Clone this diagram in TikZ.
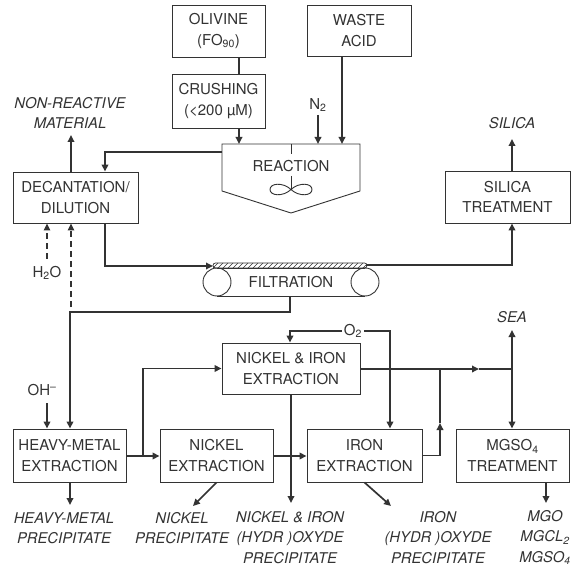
\documentclass[tikz,border=0pt]{standalone}
\usepackage{fontspec}
\setmainfont{TeX Gyre Heros}
\usetikzlibrary{arrows.meta}
\definecolor{ink}{gray}{0.2}
\begin{document}
\begin{tikzpicture}[x=1pt,y=-1pt,
 box/.style={draw=ink,line width=0.9pt,inner sep=0pt,align=center,font=\fontsize{15}{20.5}\selectfont,text=ink},
 lab/.style={inner sep=0pt,align=center,font=\fontsize{14.8}{20.5}\selectfont\itshape,text=ink},
 txt/.style={inner sep=0pt,align=center,font=\fontsize{15}{20.5}\selectfont,text=ink},
 conn/.style={draw=ink,line width=1.7pt},
 arr/.style={conn,-{Triangle[length=7pt,width=6.5pt]}},
 dsh/.style={draw=ink,line width=1.3pt,dash pattern=on 6pt off 4pt,-{Triangle[length=7pt,width=6.5pt]}},
 thin/.style={draw=ink,line width=0.9pt},
]
\useasboundingbox[fill=white] (0,0) rectangle (579,567);

% boxes
\node[box,minimum width=93,minimum height=52] (oliv) at (218.5,31) {OLIVINE\\(FO\textsubscript{90})};
\node[box,minimum width=93,minimum height=54] (crush) at (218.5,101) {CRUSHING\\(<200 µM)};
\node[box,minimum width=104,minimum height=51] (waste) at (359,30.5) {WASTE\\ACID};
\node[box,minimum width=125,minimum height=51] (decant) at (75.5,197.5) {DECANTATION/\\DILUTION};
\node[box,minimum width=125,minimum height=52] (silt) at (507.5,197) {SILICA\\TREATMENT};
\node[box,minimum width=138,minimum height=51] (nife) at (291,368.5) {NICKEL \& IRON\\EXTRACTION};
\node[box,minimum width=113,minimum height=53] (heavy) at (69.5,455.5) {HEAVY-METAL\\EXTRACTION};
\node[box,minimum width=113,minimum height=53] (nick) at (216.5,455.5) {NICKEL\\EXTRACTION};
\node[box,minimum width=115,minimum height=53] (iron) at (364.5,455.5) {IRON\\EXTRACTION};
\node[box,minimum width=113,minimum height=53] (mgso) at (512.5,455.5) {MGSO\textsubscript{4}\\TREATMENT};

% reaction vessel
\coordinate (rtl) at (222,144);
\coordinate (rtr) at (360,144);
\coordinate (rbr) at (360,191);
\coordinate (rbot) at (291,213);
\coordinate (rbl) at (222,191);
\draw[thin] (rtl) -- (rtr) -- (rbr) -- (rbot) -- (rbl) -- cycle;
\node[txt] (react) at (291,166) {REACTION};
\draw[thin] (291,144) -- (291,154);
\draw[thin] (291,176) -- (291,189.5);
\draw[thin] (291,189.5) .. controls (283,182) and (270,183) .. (270,189.5)
  .. controls (270,196) and (283,197) .. (291,189.5)
  .. controls (299,182) and (312,183) .. (312,189.5)
  .. controls (312,196) and (299,197) .. (291,189.5);

% filtration belt
\draw[thin] (217,268) -- (365,268);
\draw[thin] (217,296) -- (365,296);
\draw[thin] (217,282) circle[radius=14];
\draw[thin] (365,282) circle[radius=14];
\draw[draw=ink,line width=0.7pt,rounded corners=2.5pt] (213,263) rectangle (367,268);
\begin{scope}
\clip (213,263) rectangle (366,268);
\foreach \i in {208,213,...,370} \draw[ink,line width=0.5pt] (\i,268) -- (\i+5,263);
\end{scope}
\node[txt] (filt) at (291,282) {FILTRATION};

% labels
\node[lab] (nonr) at (70,113) {NON-REACTIVE\\MATERIAL};
\node[lab] (silica) at (512,123) {SILICA};
\node[txt] (n2) at (318,105) {N\textsubscript{2}};
\node[txt] (h2o) at (47,273) {H\textsubscript{2}O};
\node[txt] (oh) at (42,390) {OH\textsuperscript{–}};
\node[txt,inner sep=2pt] (o2) at (353,331) {O\textsubscript{2}};
\node[lab] (sea) at (512,317) {SEA};
\node[lab] (hmp) at (64,528) {HEAVY-METAL\\PRECIPITATE};
\node[lab] (np) at (182,528) {NICKEL\\PRECIPITATE};
\node[lab] (nifp) at (290,537.5) {NICKEL \& IRON\\(HYDR )OXYDE\\PRECIPITATE};
\node[lab] (irp) at (438,537.5) {IRON\\(HYDR )OXYDE\\PRECIPITATE};
\node[lab] (mgp) at (545,537.5) {MGO\\MGCL\textsubscript{2}\\MGSO\textsubscript{4}};

% helper coordinates
\coordinate (xc) at (239,0);
\coordinate (xw) at (342,0);
\coordinate (xd) at (105,0);
\coordinate (xm) at (71,0);
\coordinate (xs) at (512,0);
\coordinate (rl) at (222,152);
\coordinate (nrtip) at (71,135);
\coordinate (sitip) at (512,139);
\coordinate (beltin) at (213,266);
\coordinate (beltout) at (366,265);
\coordinate (fb) at (290,296);
\coordinate (corner) at (70,312);
\coordinate (dstart) at (71,307);
\coordinate (hstart) at (47,259);
\coordinate (ohs) at (47,403);
\coordinate (yh) at (0,456);
\coordinate (j1) at (143,456);
\coordinate (hmtip) at (70,505);
\coordinate (nptip) at (193,506);
\coordinate (nifetip) at (291,503);
\coordinate (xo1) at (290,0);
\coordinate (xo2) at (390,0);
\coordinate (amid) at (479,369);
\coordinate (j2) at (512,369);
\coordinate (seatip) at (512,330);
\coordinate (ja) at (440,423);
\coordinate (jm) at (440,369);
\coordinate (irtip) at (391,506);
\coordinate (xmg) at (546,0);
\coordinate (mgtip) at (546,503);

% connectors
\draw[conn] (oliv.south -| xc) -- (crush.north -| xc);
\draw[arr] (crush.south -| xc) -- (rtl -| xc);
\draw[arr] ([yshift=-3pt]n2.south) -- (n2 |- rtl);
\draw[arr] (waste.south -| xw) -- (rtl -| xw);
\draw[arr] (rl) -| (decant.north -| xd);
\draw[arr] (decant.north -| xm) -- (nrtip);
\draw[arr] (decant.south -| xd) |- (beltin);
\draw[arr] (beltout) -| (silt.south -| xs);
\draw[arr] (silt.north -| xs) -- (sitip);
\draw[arr] (fb) |- (corner) -- (heavy.north -| corner);
\draw[dsh] (dstart) -- (decant.south -| dstart);
\draw[dsh] (hstart) -- (decant.south -| hstart);
\draw[arr] (ohs) -- (heavy.north -| ohs);
\draw[arr] (heavy.east |- yh) -- (nick.west |- yh);
\draw[arr] (j1) |- (nife.west);
\draw[arr] (heavy.south -| corner) -- (hmtip);
\draw[arr] (nick.south) -- (nptip);
\draw[arr] (nick.east |- yh) -- (iron.west |- yh);
\draw[arr] (nife.south) -- (nifetip);
\draw[arr] (o2.west) -| (nife.north -| xo1);
\draw[arr] (o2.east) -| (iron.north -| xo2);
\draw[arr] (nife.east |- j2) -- (amid);
\draw[conn] (amid) -- (j2);
\draw[arr] (j2) -- (seatip);
\draw[arr] (j2) -- (mgso.north -| j2);
\draw[arr] (iron.east) -| (ja);
\draw[conn] (ja) -- (jm);
\draw[arr] (iron.south) -- (irtip);
\draw[arr] (mgso.south -| xmg) -- (mgtip);
\end{tikzpicture}
\end{document}
